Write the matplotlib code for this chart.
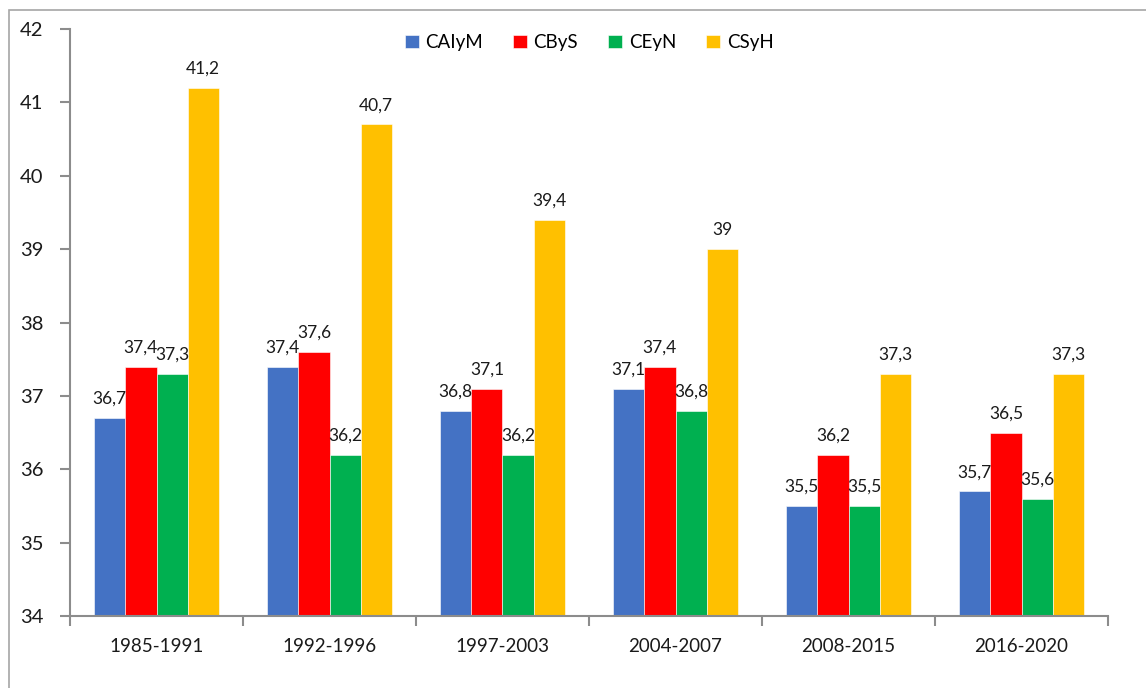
import numpy as np
import matplotlib.pyplot as plt
from matplotlib.patches import Rectangle

plt.rcParams['font.family'] = ['Lato', 'DejaVu Sans']

# Datos
periodos = ['1985-1991', '1992-1996', '1997-2003', '2004-2007', '2008-2015', '2016-2020']
series = ['CAIyM', 'CByS', 'CEyN', 'CSyH']
caiym = [36.7, 37.4, 36.8, 37.1, 35.5, 35.7]
cbys = [37.4, 37.6, 37.1, 37.4, 36.2, 36.5]
ceyn = [37.3, 36.2, 36.2, 36.8, 35.5, 35.6]
csyh = [41.2, 40.7, 39.4, 39.0, 37.3, 37.3]
colores = ['#4472C4', '#FF0000', '#00B050', '#FFC000']

fig = plt.figure(figsize=(11.46, 6.88), dpi=100)
ax = fig.add_axes([70/1146, 1 - 616/688, (1108 - 70)/1146, (616 - 29)/688])

# Marco exterior del gráfico
fig.patches.append(Rectangle((9/1146, -0.1), 1.2, 1 - 10/688 + 0.1, transform=fig.transFigure,
                             fill=False, edgecolor='#a6a6a6', linewidth=1.2))

x = np.arange(len(periodos))
ancho = 0.18
for i, (nombre, vals) in enumerate(zip(series, [caiym, cbys, ceyn, csyh])):
    pos = x + (i - 1.5) * ancho
    ax.bar(pos, np.array(vals) - 34, width=ancho, bottom=34, color=colores[i], label=nombre,
           edgecolor='white', linewidth=0.4)
    for px, v in zip(pos, vals):
        txt = f'{v:g}'.replace('.', ',')
        ax.annotate(txt, (px, v), xytext=(0, 8), textcoords='offset points',
                    ha='center', va='bottom', fontsize=12.5, color='#1a1a1a')

ax.set_ylim(34, 42)
ax.set_xlim(-0.5, len(periodos) - 0.5)
ax.set_yticks(range(34, 43))
ax.set_xticks(x)
ax.set_xticklabels(periodos)
ax.set_xticks(np.arange(-0.5, len(periodos)), minor=True)
ax.tick_params(axis='x', which='major', length=0, pad=16, labelsize=13.5, labelcolor='#1a1a1a')
ax.tick_params(axis='x', which='minor', length=7, width=1.5, color='#8c8c8c', direction='out')
ax.tick_params(axis='y', length=7, width=1.5, color='#8c8c8c', pad=12, labelsize=14.5, labelcolor='#1a1a1a')

for s in ['top', 'right']:
    ax.spines[s].set_visible(False)
for s in ['left', 'bottom']:
    ax.spines[s].set_color('#8c8c8c')
    ax.spines[s].set_linewidth(1.5)

ax.legend(loc='upper center', bbox_to_anchor=(0.5, 1.02), ncol=4, frameon=False,
          fontsize=13.5, handlelength=0.75, handleheight=0.75, columnspacing=1.6, handletextpad=0.35)

fig.savefig('out.png', dpi=100)
